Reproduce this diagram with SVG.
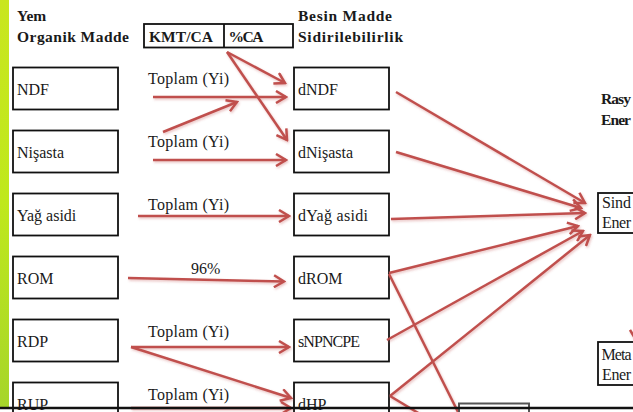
<svg xmlns="http://www.w3.org/2000/svg" width="633" height="412" viewBox="0 0 633 412">
<defs>
<linearGradient id="bar" x1="0" y1="0" x2="0" y2="1">
<stop offset="0" stop-color="#c9e61f"/>
<stop offset="0.5" stop-color="#bfe81c"/>
<stop offset="1" stop-color="#a6d52a"/>
</linearGradient>
<marker id="arr" viewBox="0 0 14 14" refX="12" refY="7" markerWidth="14" markerHeight="14" markerUnits="userSpaceOnUse" orient="auto">
<path d="M2,1 L12,7 L2,13" fill="none" stroke="#c0504d" stroke-width="2.5" stroke-linejoin="miter"/>
</marker>
<filter id="sh" x="-10%" y="-10%" width="120%" height="120%">
<feDropShadow dx="1" dy="1.5" stdDeviation="1" flood-color="#c0504d" flood-opacity="0.35"/>
</filter>
</defs>
<style>
.h{font-family:"Liberation Serif","Times New Roman",serif;font-weight:bold;font-size:15.5px;fill:#1a1a1a}
.t{font-family:"Liberation Serif","Times New Roman",serif;font-size:16px;fill:#1a1a1a}
.box{fill:#ffffff;stroke:#111111;stroke-width:1.8}
.c{fill:none;stroke:#c0504d;stroke-width:2.5}
.a{marker-end:url(#arr)}
</style>
<rect x="0" y="0" width="633" height="412" fill="#ffffff"/>
<rect x="0" y="0" width="9" height="408" fill="url(#bar)"/>

<g id="header">
<text class="h" x="17" y="21">Yem</text>
<text class="h" x="17" y="42" textLength="112">Organik Madde</text>
<text class="h" x="298" y="21" textLength="94">Besin Madde</text>
<text class="h" x="298" y="42" textLength="105">Sidirilebilirlik</text>
</g>
<g id="kmt">
<rect class="box" x="144" y="24" width="149" height="23.5"/>
<line x1="224" y1="24" x2="224" y2="47.5" stroke="#111111" stroke-width="1.8"/>
<text class="h" x="149" y="42" textLength="64">KMT/CA</text>
<text class="h" x="228.5" y="42" textLength="35">%CA</text>
</g>

<g id="ndf"><rect class="box" x="13" y="67.5" width="105" height="42"/><text class="t" x="17" y="95">NDF</text></g>
<g id="nisasta"><rect class="box" x="13" y="130.5" width="105" height="42"/><text class="t" x="17" y="158">Nişasta</text></g>
<g id="yag"><rect class="box" x="13" y="193.5" width="105" height="42"/><text class="t" x="17" y="221">Yağ asidi</text></g>
<g id="rom"><rect class="box" x="13" y="256.5" width="105" height="42"/><text class="t" x="17" y="284">ROM</text></g>
<g id="rdp"><rect class="box" x="13" y="319.5" width="105" height="42"/><text class="t" x="17" y="347">RDP</text></g>
<g id="rup"><rect class="box" x="13" y="382.5" width="105" height="42"/><text class="t" x="17" y="410">RUP</text></g>

<g id="dndf"><rect class="box" x="294" y="67.5" width="95" height="42"/><text class="t" x="298" y="95">dNDF</text></g>
<g id="dnisasta"><rect class="box" x="294" y="130.5" width="95" height="42"/><text class="t" x="298" y="158">dNişasta</text></g>
<g id="dyag"><rect class="box" x="294" y="193.5" width="95" height="42"/><text class="t" x="298" y="221" textLength="70">dYağ asidi</text></g>
<g id="drom"><rect class="box" x="294" y="256.5" width="95" height="42"/><text class="t" x="298" y="284">dROM</text></g>
<g id="snpncpe"><rect class="box" x="294" y="319.5" width="95" height="42"/><text class="t" x="298" y="347" textLength="62">sNPNCPE</text></g>
<g id="dhp"><rect class="box" x="294" y="382.5" width="95" height="42"/><text class="t" x="298" y="410">dHP</text></g>

<g id="rasyon">
<text class="h" x="601" y="104" textLength="30">Rasy</text>
<text class="h" x="601" y="125" textLength="30">Ener</text>
</g>
<g id="sindirilebilir"><rect class="box" x="598" y="193" width="50" height="40"/><text class="t" x="602" y="208" textLength="29">Sind</text><text class="t" x="602" y="228" textLength="29">Ener</text></g>
<g id="metabolik"><rect class="box" x="598" y="342" width="50" height="43"/><text class="t" x="601.5" y="360" textLength="30">Meta</text><text class="t" x="602" y="380" textLength="29">Ener</text></g>

<g id="labels">
<text class="t" x="148" y="84" textLength="81">Toplam (Yi)</text>
<text class="t" x="148" y="147" textLength="81">Toplam (Yi)</text>
<text class="t" x="148" y="210" textLength="81">Toplam (Yi)</text>
<text class="t" x="191" y="274">96%</text>
<text class="t" x="148" y="337" textLength="81">Toplam (Yi)</text>
<text class="t" x="148" y="400" textLength="81">Toplam (Yi)</text>
</g>

<g id="connectors" filter="url(#sh)">
<path class="c a" d="M153,97 L286,97"/>
<path class="c a" d="M163,132 L237,102"/>
<path class="c a" d="M153,160 L286,160"/>
<path class="c a" d="M227,52 L285,83"/>
<path class="c a" d="M227,52 L287,140"/>
<path class="c a" d="M138,216 L289,216"/>
<path class="c a" d="M128,278 L284,281.5"/>
<path class="c a" d="M131,347 L289,347"/>
<path class="c a" d="M131,347 L291,398"/>
<path class="c a" d="M131,408 L291,408"/>
<path class="c a" d="M396,92 L585,203"/>
<path class="c a" d="M396,152 L581,208"/>
<path class="c a" d="M391,219 L585,213"/>
<path class="c a" d="M389,273 L578,226"/>
<path class="c a" d="M387,340 L583,231"/>
<path class="c a" d="M390,396 L590,235"/>
<path class="c" d="M389,274 L459,414"/>
<path class="c" d="M390,396 L420,414"/>
<path class="c a" d="M636,238 L636,340"/>
</g>

<g id="bottom">
<rect x="459" y="403.5" width="70" height="20" fill="#ffffff" stroke="#555555" stroke-width="2"/>
<line x1="0" y1="408" x2="633" y2="408" stroke="#111111" stroke-width="2.6"/>
</g>
</svg>
